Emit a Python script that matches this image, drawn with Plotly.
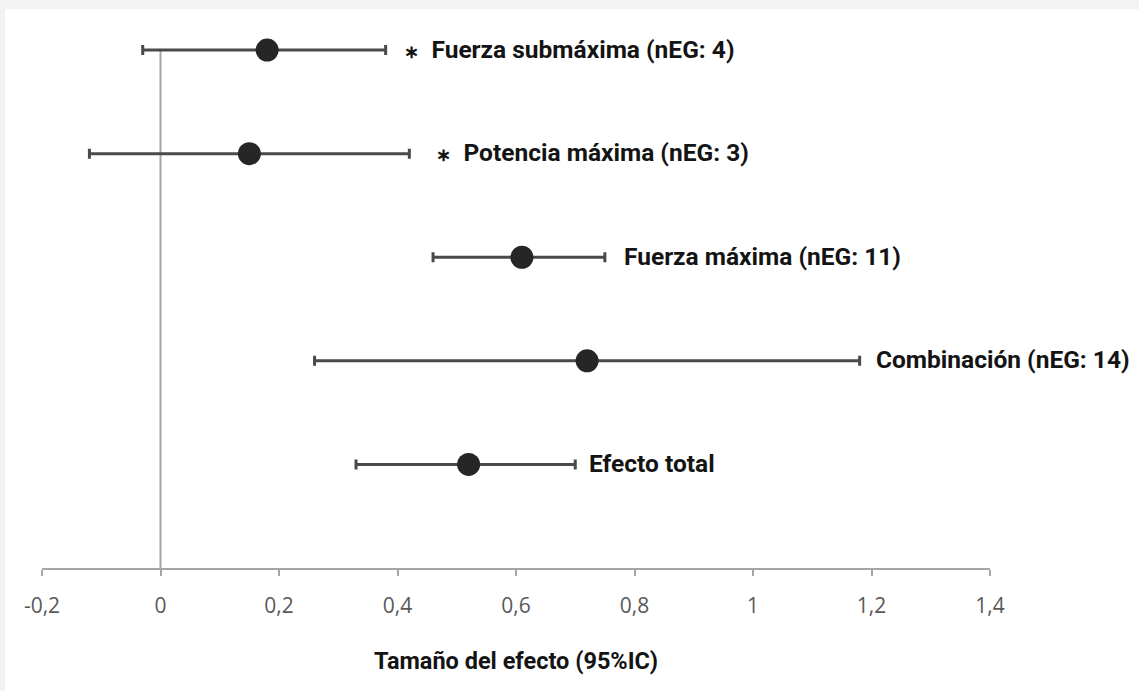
import plotly.graph_objects as go

ast = "<span style='font-size:18px'>\u2217</span>\u2002"
labels = [ast + "Fuerza submáxima (nEG: 4)", ast + "Potencia máxima (nEG: 3)",
          "Fuerza máxima (nEG: 11)", "Combinación (nEG: 14)", "Efecto total"]
label_shift = [16, 25, 17, 14, 12]
rows = [5, 4, 3, 2, 1]
effect = [0.18, 0.15, 0.61, 0.72, 0.52]
lower = [-0.03, -0.12, 0.46, 0.26, 0.33]
upper = [0.38, 0.42, 0.75, 1.18, 0.70]
tick_vals = [-0.2, 0, 0.2, 0.4, 0.6, 0.8, 1.0, 1.2, 1.4]
tick_text = ["-0,2", "0", "0,2", "0,4", "0,6", "0,8", "1", "1,2", "1,4"]
y_max = 5.3

W, H = 1139, 691
L, R, B = 42, 149, 123
unit = 518 / 5
T = int(round(50 - (y_max - 5) * unit))

fig = go.Figure()
fig.add_shape(type="line", xref="x", yref="y", x0=0, x1=0, y0=0, y1=rows[0],
              line=dict(color="#a6a6a6", width=2), layer="below")
fig.add_trace(go.Scatter(
    x=effect, y=rows, mode="markers",
    marker=dict(size=23, color="#262626"),
    error_x=dict(type="data", symmetric=False,
                 array=[u - e for u, e in zip(upper, effect)],
                 arrayminus=[e - l for e, l in zip(effect, lower)],
                 color="#4a4a4a", thickness=3, width=5),
    cliponaxis=False, showlegend=False, hoverinfo="skip",
))

for lab, y, u, sh in zip(labels, rows, upper, label_shift):
    fig.add_annotation(x=u, y=y, text=lab, showarrow=False, xanchor="left",
                       yanchor="middle", xshift=sh, yshift=1,
                       font=dict(family="Roboto", size=24.5, color="#141414", weight="bold"))

pw = W - L - R
ph = H - T - B
fig.add_shape(type="rect", xref="paper", yref="paper",
              x0=(5 - L) / pw, x1=(W + 5 - L) / pw,
              y0=(H - B - (H + 5)) / ph, y1=(H - B - 9) / ph,
              fillcolor="white", line_width=0, layer="below")

fig.update_layout(
    width=W, height=H,
    margin=dict(l=L, r=R, t=T, b=B),
    paper_bgcolor="#f3f3f3", plot_bgcolor="white",
    xaxis=dict(range=[-0.2, 1.4], tickvals=tick_vals, ticktext=tick_text,
               showgrid=False, zeroline=False, showline=True,
               linecolor="#a6a6a6", linewidth=2,
               ticks="outside", ticklen=6, tickwidth=2, tickcolor="#a6a6a6",
               tickfont=dict(family="Open Sans", size=21, color="#595959"),
               ticklabelstandoff=12,
               title=dict(text="Tamaño del efecto (95%IC)", standoff=34,
                          font=dict(family="Roboto", size=23.5, color="#141414", weight="bold"))),
    yaxis=dict(range=[0, y_max], showgrid=False, zeroline=False, showline=False,
               showticklabels=False, ticks=""),
)

fig.write_html("out.html", config={"displayModeBar": False},
               post_script="document.body.style.margin='0';document.body.style.background='#f3f3f3';document.documentElement.style.overflow='hidden';")
